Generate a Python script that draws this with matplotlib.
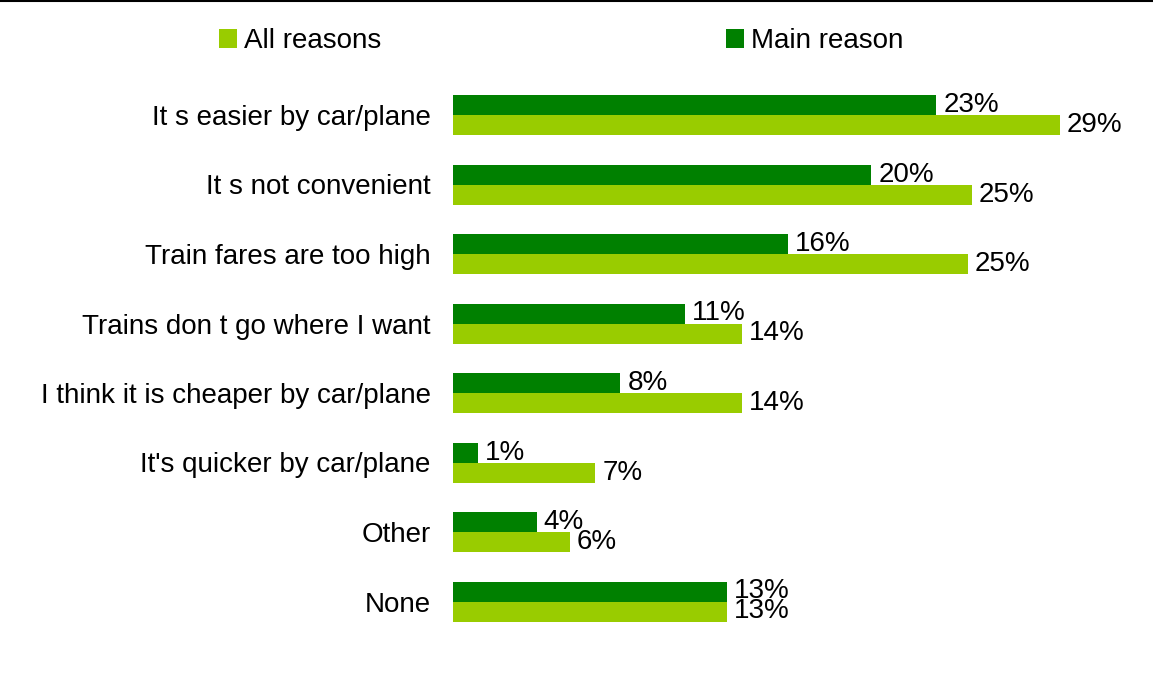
import matplotlib
matplotlib.use("Agg")
import matplotlib.pyplot as plt
from matplotlib.patches import Patch
from matplotlib.lines import Line2D
import numpy as np

plt.rcParams["font.family"] = ["Liberation Sans", "DejaVu Sans"]

categories = [
    "It s easier by car/plane",
    "It s not convenient",
    "Train fares are too high",
    "Trains don t go where I want",
    "I think it is cheaper by car/plane",
    "It's quicker by car/plane",
    "Other",
    "None",
]
main_reason = [23.1, 20.0, 16.0, 11.1, 8.0, 1.2, 4.0, 13.1]
all_reasons = [29.0, 24.8, 24.6, 13.8, 13.8, 6.8, 5.6, 13.1]

DARK = "#008000"
LIGHT = "#99CC00"
FS = 20

W, H = 1153, 675
fig = plt.figure(figsize=(W / 100, H / 100), dpi=100)

# axes placed in pixel terms: origin at x=453, rows 69.5 px apart
left, right = 453, 1120
top, bottom = 80.25, 80.25 + 8 * 69.5
ax = fig.add_axes([left / W, 1 - bottom / H, (right - left) / W, (bottom - top) / H])

px_per_pct = 20.92
ax.set_xlim(0, (right - left) / px_per_pct)
ax.set_ylim(7.5, -0.5)

y = np.arange(len(categories))
h = 20 / 69.5
b_main = ax.barh(y - h / 2, main_reason, height=h, color=DARK, label="Main reason")
b_all = ax.barh(y + h / 2, all_reasons, height=h, color=LIGHT, label="All reasons")

fmt = lambda v: f"{v:.0f}%"
ax.bar_label(b_main, labels=[fmt(v) for v in main_reason], padding=5, fontsize=FS)
ax.bar_label(b_all, labels=[fmt(v) for v in all_reasons], padding=5, fontsize=FS)

ax.set_yticks(y)
ax.set_yticklabels(categories, fontsize=FS)
ax.tick_params(axis="y", length=0, pad=16)
ax.set_xticks([])
for s in ax.spines.values():
    s.set_visible(False)

handles = [Patch(facecolor=LIGHT, edgecolor="none"), Patch(facecolor=DARK, edgecolor="none")]
fig.legend(handles, ["All reasons", "Main reason"], ncol=2, frameon=False,
           loc="center left", bbox_to_anchor=(219 / W, 1 - 41 / H),
           fontsize=FS, handlelength=0.65, handleheight=0.65,
           handletextpad=0.25, columnspacing=12.4, borderpad=0, borderaxespad=0)

# thin rule along the top edge
fig.add_artist(Line2D([0, 1], [1 - 1 / H, 1 - 1 / H], transform=fig.transFigure,
                      color="black", linewidth=1.5))

fig.savefig("out.png", dpi=100, facecolor="white")
